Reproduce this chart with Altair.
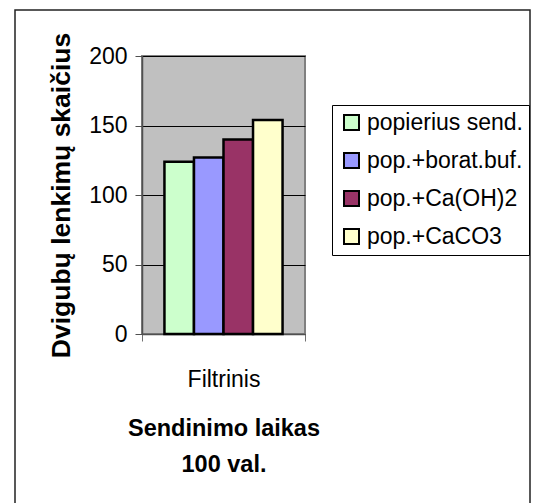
import altair as alt
import pandas as pd

category = ["Filtrinis"]
series = ["popierius send.", "pop.+borat.buf.", "pop.+Ca(OH)2", "pop.+CaCO3"]
values = [124, 127, 140, 154]
colors = ["#CCFFCC", "#9999FF", "#993366", "#FFFFCC"]
y_ticks = [0, 50, 100, 150, 200]

df = pd.DataFrame({
    "cat": category * len(series),
    "series": series,
    "value": values,
})

FONT = "Liberation Sans"

bars = alt.Chart(df).mark_bar(stroke="black", strokeWidth=2.5).encode(
    x=alt.X("cat:N",
            scale=alt.Scale(paddingInner=0, paddingOuter=0),
            axis=alt.Axis(
                title=["Sendinimo laikas", "100 val."],
                labelAngle=0, tickBand="extent", tickSize=7,
                tickColor="#707070", domainColor="#505050", domainWidth=1.5,
                labelFontSize=23, labelPadding=27, labelFont=FONT, labelColor="black",
                titleFontSize=23.5, titleFont=FONT, titleFontWeight="bold",
                titleLineHeight=36, titlePadding=25, titleColor="black",
            )),
    xOffset=alt.XOffset("series:N", sort=series,
                        scale=alt.Scale(paddingInner=0, paddingOuter=0.76)),
    y=alt.Y("value:Q",
            scale=alt.Scale(domain=[0, 200], nice=False),
            axis=alt.Axis(
                title="Dvigubų lenkimų skaičius", values=y_ticks,
                tickSize=7, tickColor="#505050", domainColor="#505050", domainWidth=1.5,
                grid=True, gridColor="black", gridWidth=1, gridOpacity=1,
                labelFontSize=23, labelPadding=8, labelFont=FONT, labelColor="black",
                titleFontSize=26.5, titleFont=FONT, titleFontWeight="bold",
                titlePadding=13, titleColor="black",
            )),
    color=alt.Color("series:N", sort=series,
                    scale=alt.Scale(domain=series, range=colors),
                    legend=alt.Legend(
                        title=None, orient="none", legendX=190, legendY=49,
                        symbolType="square", symbolSize=225,
                        symbolStrokeColor="black", symbolStrokeWidth=2,
                        symbolOpacity=1, symbolOffset=2,
                        labelFontSize=23, labelFont=FONT, labelColor="black",
                        labelOffset=4, rowPadding=14, padding=6,
                        strokeColor="black", fillColor="white",
                        labelLimit=400,
                    )),
)

frame = alt.Chart(alt.Data(values=[{}])).mark_rect(
    fill="transparent", stroke="#222222", strokeWidth=1.5
).encode(
    x=alt.value(-127), x2=alt.value(388),
    y=alt.value(-46), y2=alt.value(470),
)

chart = alt.layer(bars, frame).properties(
    width=163, height=278,
    autosize=alt.AutoSizeParams(type="none"),
    padding={"left": 142, "top": 56, "right": 228, "bottom": 169},
    background="white",
).configure_view(
    fill="#C0C0C0", stroke="#808080", strokeWidth=2
)

chart.save("out.html", embed_options={"renderer": "svg", "actions": False})
